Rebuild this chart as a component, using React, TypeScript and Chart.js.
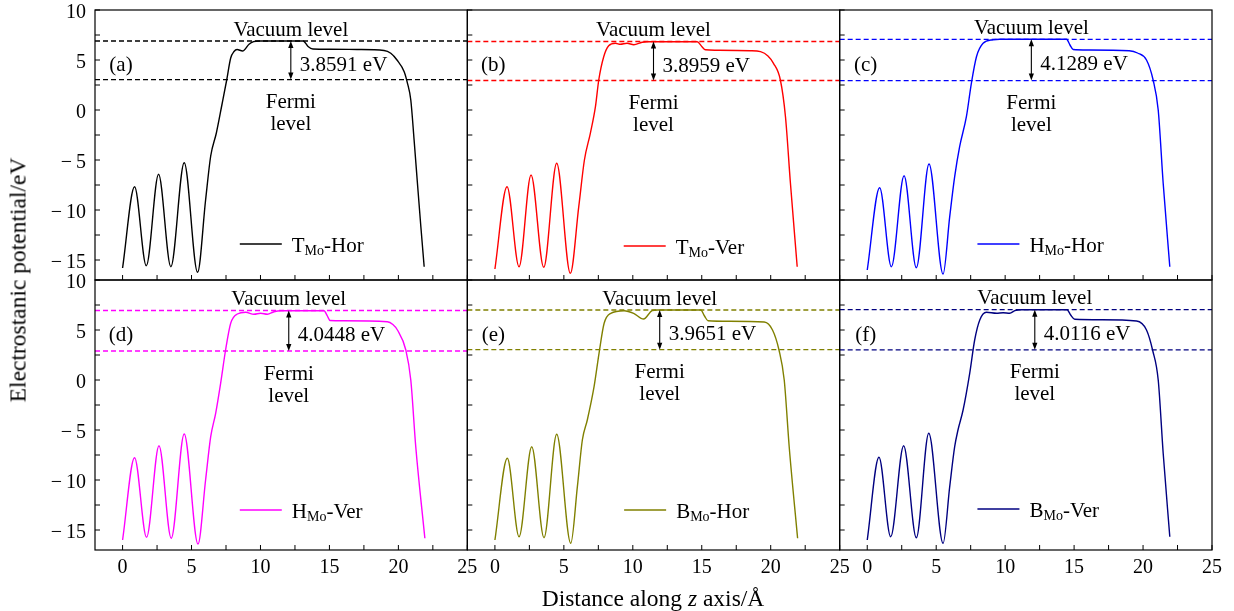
import React, { useEffect, useRef } from 'react';
import { Chart, registerables } from 'chart.js';

Chart.register(...registerables);

// ---------- data ----------
const panelLabels = ['(a)', '(b)', '(c)', '(d)', '(e)', '(f)'];
const legendMain = ['T', 'T', 'H', 'H', 'B', 'B'];
const legendSub = 'Mo';
const legendSuffix = ['-Hor', '-Ver', '-Hor', '-Ver', '-Hor', '-Ver'];
const gapLabels = ['3.8591 eV', '3.8959 eV', '4.1289 eV', '4.0448 eV', '3.9651 eV', '4.0116 eV'];
const vacuumLevels = [6.9, 6.85, 7.07, 6.95, 7.0, 7.03];
const fermiLevels = [3.04, 2.95, 2.94, 2.9, 3.03, 3.02];
const arrowX = [12.2, 11.5, 11.9, 12.05, 11.95, 12.15];
const legendX = [8.5, 9.34, 7.99, 8.5, 9.37, 7.99];
const legendY = [-13.4, -13.6, -13.4, -13.0, -13.0, -12.9];
const colors = ['#000000', '#ff0000', '#0000ff', '#ff00ff', '#808000', '#000080'];

const xTicksMajor = 5;
const minorStep = 2.5;

const aX = [0, 0.87, 1.72, 2.61, 3.5, 4.47, 5.44, 6.02, 6.39, 6.8, 7.2, 7.55, 7.84, 8.08, 8.3, 8.7, 9.17, 9.5, 9.9, 13.1, 13.45, 13.8, 15, 17, 18.96, 19.45, 19.9, 20.42, 20.66, 20.9, 21.14, 21.38, 21.63, 21.87];
const aY = [-15.8, -7.67, -15.57, -6.43, -15.67, -5.27, -16.23, -9.0, -4.6, -2.3, 0.5, 3.0, 5.2, 5.85, 6.05, 5.9, 6.57, 6.83, 6.9, 6.9, 6.35, 6.1, 6.08, 6.05, 5.95, 5.67, 5.0, 3.83, 2.67, 1.0, -3.0, -7.3, -11.67, -15.67];

const bX = [0, 0.88, 1.75, 2.62, 3.54, 4.48, 5.47, 6.08, 6.49, 6.92, 7.29, 7.53, 7.89, 8.25, 8.74, 9.1, 9.58, 10.07, 10.67, 11.03, 14.67, 15.0, 15.27, 16.0, 18.5, 19.26, 19.8, 20.2, 20.7, 21.07, 21.43, 21.92];
const bY = [-15.9, -7.67, -15.67, -6.5, -15.73, -5.33, -16.33, -9.67, -5.0, -2.33, 0.33, 3.0, 5.33, 6.43, 6.67, 6.57, 6.67, 6.53, 6.77, 6.83, 6.83, 6.35, 6.02, 5.98, 5.93, 5.83, 5.4, 4.67, 3.0, -0.67, -7.33, -15.67];

const cX = [0, 0.9, 1.75, 2.67, 3.56, 4.48, 5.5, 5.98, 6.34, 6.7, 7.19, 7.55, 7.92, 8.4, 9.12, 9.6, 14.45, 14.7, 14.93, 16.0, 19.0, 19.6, 20.25, 20.73, 21.1, 21.46, 21.94];
const cY = [-16, -7.77, -15.67, -6.57, -15.77, -5.4, -16.4, -10.67, -6.67, -3.67, -0.67, 2.67, 5.33, 6.67, 7.03, 7.07, 7.07, 6.5, 6.05, 6.0, 5.92, 5.7, 5.0, 3.0, 0, -7.33, -15.67];

const dX = [0, 0.87, 1.74, 2.64, 3.53, 4.47, 5.47, 6.02, 6.39, 6.75, 7.11, 7.47, 7.84, 8.32, 8.93, 9.53, 10.01, 10.5, 10.98, 11.5, 14.61, 14.85, 15.05, 16.0, 19.2, 19.6, 19.93, 20.54, 20.9, 21.26, 21.92];
const dY = [-16, -7.77, -15.73, -6.57, -15.83, -5.4, -16.4, -10, -5.67, -3.33, -0.33, 3.0, 5.67, 6.6, 6.77, 6.57, 6.67, 6.57, 6.83, 6.93, 6.93, 6.4, 5.95, 5.93, 5.83, 5.55, 5.0, 3.0, 0, -6.67, -15.83];

const eX = [0, 0.9, 1.75, 2.67, 3.56, 4.48, 5.5, 5.98, 6.34, 6.7, 7.19, 7.55, 7.92, 8.4, 9.37, 10.06, 10.78, 11.4, 11.8, 14.93, 15.2, 15.45, 17.0, 19.53, 20.13, 20.6, 20.98, 21.34, 21.95];
const eY = [-16, -7.83, -15.67, -6.67, -15.77, -5.43, -16.33, -10.67, -6.0, -4.0, -0.67, 2.67, 5.67, 6.67, 6.93, 6.67, 6.1, 6.93, 7.0, 7.0, 6.4, 5.93, 5.88, 5.8, 5.0, 3.0, 0, -6.67, -15.83];

const fX = [0, 0.85, 1.7, 2.64, 3.56, 4.46, 5.5, 5.98, 6.34, 6.58, 6.95, 7.43, 7.79, 8.16, 8.64, 9.37, 9.85, 10.33, 10.7, 11.2, 14.49, 14.75, 15.05, 17.0, 19.53, 20.25, 20.69, 21.1, 21.46, 21.94];
const fY = [-16, -7.73, -15.67, -6.57, -15.77, -5.33, -16.33, -10.67, -6.67, -5.0, -3.0, 0.67, 4.0, 6.0, 6.77, 6.67, 6.73, 6.67, 6.93, 7.03, 7.03, 6.5, 6.07, 6.02, 5.9, 5.0, 3.0, 0, -7.33, -15.67];

const curvesX = [aX, bX, cX, dX, eX, fX];
const curvesY = [aY, bY, cY, dY, eY, fY];

const X_MIN = -2;
const X_MAX = 25;
const Y_MIN = -17;
const Y_MAX = 10;

// ---------- styling ----------
const FONT = 'Liberation Serif';
const FS = 20;
const AFS = 21;

const xAxisIds = ['x0', 'x1', 'x2'];
const yAxisIdFor = (row: number) => (row === 0 ? 'yTop' : 'yBot');

function buildDatasets() {
  const ds: any[] = [];
  for (let i = 0; i < 6; i++) {
    const col = i % 3;
    const row = Math.floor(i / 3);
    const xid = xAxisIds[col];
    const yid = yAxisIdFor(row);
    for (const lvl of [vacuumLevels[i], fermiLevels[i]]) {
      ds.push({
        data: [{ x: X_MIN, y: lvl }, { x: X_MAX, y: lvl }],
        xAxisID: xid,
        yAxisID: yid,
        borderColor: colors[i],
        borderWidth: 1.3,
        borderDash: [5, 3],
        pointRadius: 0,
        fill: false,
        tension: 0,
      });
    }
    ds.push({
      data: curvesX[i].map((x, k) => ({ x, y: curvesY[i][k] })),
      xAxisID: xid,
      yAxisID: yid,
      borderColor: colors[i],
      borderWidth: 1.4,
      pointRadius: 0,
      fill: false,
      cubicInterpolationMode: 'monotone',
    });
  }
  return ds;
}

function line(ctx: CanvasRenderingContext2D, x1: number, y1: number, x2: number, y2: number) {
  ctx.beginPath();
  ctx.moveTo(x1, y1);
  ctx.lineTo(x2, y2);
  ctx.stroke();
}

const panelPlugin = {
  id: 'panelDecor',
  afterDraw(chart: any) {
    const ctx: CanvasRenderingContext2D = chart.ctx;
    for (let i = 0; i < 6; i++) {
      const col = i % 3;
      const row = Math.floor(i / 3);
      const xs = chart.scales[xAxisIds[col]];
      const ys = chart.scales[yAxisIdFor(row)];
      const L = xs.left, R = xs.right, T = ys.top, B = ys.bottom;
      ctx.save();
      // frame
      ctx.strokeStyle = '#000';
      ctx.lineWidth = 1.2;
      ctx.strokeRect(L, T, R - L, B - T);
      // inward ticks
      ctx.lineWidth = 1;
      for (let v = -15; v <= Y_MAX + 1e-9; v += minorStep) {
        const y = ys.getPixelForValue(v);
        line(ctx, L, y, L + 5, y);
      }
      for (let v = 0; v <= X_MAX + 1e-9; v += minorStep) {
        const x = xs.getPixelForValue(v);
        line(ctx, x, B, x, B - 5);
      }
      // arrow
      const ax = xs.getPixelForValue(arrowX[i]);
      const yv = ys.getPixelForValue(vacuumLevels[i]);
      const yf = ys.getPixelForValue(fermiLevels[i]);
      ctx.strokeStyle = '#000';
      ctx.fillStyle = '#000';
      ctx.lineWidth = 1.1;
      line(ctx, ax, yv + 3, ax, yf - 3);
      ctx.beginPath();
      ctx.moveTo(ax, yv);
      ctx.lineTo(ax - 2.6, yv + 7);
      ctx.lineTo(ax + 2.6, yv + 7);
      ctx.closePath();
      ctx.fill();
      ctx.beginPath();
      ctx.moveTo(ax, yf);
      ctx.lineTo(ax - 2.6, yf - 7);
      ctx.lineTo(ax + 2.6, yf - 7);
      ctx.closePath();
      ctx.fill();
      // texts
      ctx.font = `${AFS}px "${FONT}"`;
      ctx.textBaseline = 'middle';
      ctx.textAlign = 'center';
      ctx.fillText('Vacuum level', ax, yv - 11);
      ctx.fillText('Fermi', ax, yf + 23);
      ctx.fillText('level', ax, yf + 45);
      ctx.fillText(panelLabels[i], L + 26, T + 55);
      ctx.textAlign = 'left';
      ctx.fillText(gapLabels[i], ax + 9, (yv + yf) / 2 + 5);
      // legend
      const lx = xs.getPixelForValue(legendX[i]);
      const ly = ys.getPixelForValue(legendY[i]);
      ctx.strokeStyle = colors[i];
      ctx.lineWidth = 1.4;
      line(ctx, lx, ly, lx + 42, ly);
      let tx = lx + 52;
      const ty = ly + 2;
      ctx.fillStyle = '#000';
      ctx.font = `${AFS}px "${FONT}"`;
      ctx.fillText(legendMain[i], tx, ty);
      tx += ctx.measureText(legendMain[i]).width;
      ctx.font = `14px "${FONT}"`;
      ctx.fillText(legendSub, tx, ty + 5);
      tx += ctx.measureText(legendSub).width;
      ctx.font = `${AFS}px "${FONT}"`;
      ctx.fillText(legendSuffix[i], tx, ty);
      ctx.restore();
    }
  },
};

function buildScales() {
  const scales: any = {};
  const fitX = (s: any) => {
    s.height = 30;
    s.paddingLeft = 0;
    s.paddingRight = 0;
  };
  const fitY = (s: any) => {
    s.width = 65;
    s.paddingTop = 0;
    s.paddingBottom = 0;
  };
  for (const id of xAxisIds) {
    scales[id] = {
      type: 'linear',
      position: 'bottom',
      stack: 'cols',
      stackWeight: 1,
      min: X_MIN,
      max: X_MAX,
      grid: { display: false, drawTicks: false },
      border: { display: false },
      ticks: {
        stepSize: xTicksMajor,
        includeBounds: false,
        autoSkip: false,
        maxRotation: 0,
        padding: 6,
        color: '#000',
        font: { family: FONT, size: FS },
      },
      afterFit: fitX,
    };
  }
  const yCommon = () => ({
    type: 'linear',
    position: 'left',
    stack: 'rows',
    stackWeight: 1,
    min: Y_MIN,
    max: Y_MAX,
    grid: { display: false, drawTicks: false },
    border: { display: false },
    ticks: {
      stepSize: 5,
      includeBounds: false,
      autoSkip: false,
      padding: 9,
      labelOffset: 3,
      color: '#000',
      font: { family: FONT, size: FS },
      callback: (v: number) => (v < 0 ? '\u2212\u2009' + Math.abs(v) : String(v)),
    },
    afterFit: fitY,
  });
  // left stacks are placed in reverse definition order
  scales['yBot'] = yCommon();
  scales['yTop'] = yCommon();
  return scales;
}

export default function App() {
  const ref = useRef<HTMLCanvasElement>(null);
  useEffect(() => {
    if (!ref.current) return;
    const chart = new Chart(ref.current, {
      type: 'line',
      data: { datasets: buildDatasets() },
      options: {
        responsive: false,
        animation: false,
        devicePixelRatio: 1,
        layout: { padding: { left: 30, right: 22, top: 10, bottom: 31 } },
        plugins: { legend: { display: false }, tooltip: { enabled: false }, title: { display: false } },
        scales: buildScales(),
      } as any,
      plugins: [panelPlugin],
    });
    return () => chart.destroy();
  }, []);

  return (
    <div style={{ position: 'absolute', left: 0, top: 0, width: 1234, height: 611, background: '#fff' }}>
      <canvas ref={ref} width={1234} height={611} style={{ position: 'absolute', left: 0, top: 0, width: 1234, height: 611 }} />
      <div
        style={{
          position: 'absolute',
          left: 18,
          top: 280,
          transform: 'translate(-50%, -50%) rotate(-90deg)',
          fontFamily: FONT,
          fontSize: 23.5,
          whiteSpace: 'nowrap',
          color: '#000',
        }}
      >
        Electrostanic potential/eV
      </div>
      <div
        style={{
          position: 'absolute',
          left: 653,
          top: 598,
          transform: 'translate(-50%, -50%)',
          fontFamily: FONT,
          fontSize: 23.5,
          whiteSpace: 'nowrap',
          color: '#000',
        }}
      >
        Distance along <i>z</i> axis/Å
      </div>
    </div>
  );
}
